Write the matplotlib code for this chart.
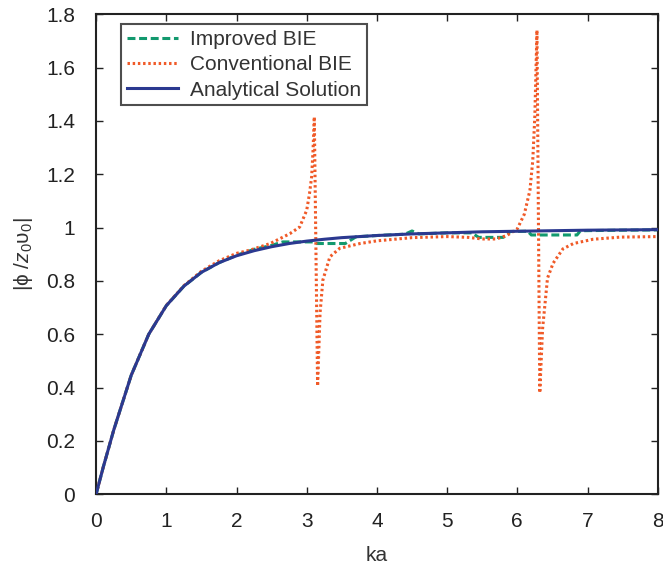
import matplotlib
matplotlib.use("Agg")
import matplotlib.pyplot as plt

plt.rcParams['font.family'] = ['Liberation Sans', 'DejaVu Sans']
plt.rcParams['mathtext.fontset'] = 'custom'
plt.rcParams['mathtext.rm'] = 'Liberation Sans'
plt.rcParams['mathtext.it'] = 'Liberation Sans:italic'

# Analytical solution
ka_an = [0, 0.1, 0.25, 0.5, 0.75, 1.0, 1.25, 1.5, 1.75, 2.0, 2.25, 2.5, 2.75, 3.0, 3.25, 3.5,
         4.0, 4.5, 5.0, 5.5, 6.0, 6.5, 7.0, 7.5, 8.0]
val_an = [0, 0.10, 0.24, 0.446, 0.60, 0.707, 0.78, 0.832, 0.868, 0.894, 0.913, 0.928, 0.94,
          0.949, 0.956, 0.962, 0.970, 0.976, 0.980, 0.984, 0.986, 0.988, 0.990, 0.991, 0.992]

# Improved BIE
ka_imp = [0, 0.1, 0.25, 0.5, 0.75, 1.0, 1.25, 1.5, 1.75, 2.0, 2.25, 2.5, 2.66, 3.09, 3.13,
          3.55, 3.7, 4.0, 4.4, 4.5, 4.6, 5.0, 5.35, 5.45, 5.8, 5.9, 6.15, 6.2, 6.85, 6.9,
          7.5, 8.0]
val_imp = [0, 0.10, 0.24, 0.446, 0.60, 0.707, 0.78, 0.832, 0.868, 0.896, 0.918, 0.933, 0.946,
           0.946, 0.940, 0.940, 0.965, 0.970, 0.975, 0.987, 0.976, 0.980, 0.980, 0.963, 0.963,
           0.985, 0.986, 0.972, 0.972, 0.988, 0.990, 0.991]

# Conventional BIE
ka_con = [0, 0.1, 0.25, 0.5, 0.75, 1.0, 1.25, 1.5, 1.75, 2.0, 2.19, 2.48, 2.76, 2.9, 3.0,
          3.04, 3.07, 3.09, 3.108, 3.155, 3.19, 3.23, 3.33, 3.47, 3.76, 4.0, 4.5, 5.0, 5.3,
          5.5, 5.7, 5.85, 6.0, 6.1, 6.18, 6.22, 6.25, 6.28, 6.32, 6.36, 6.43, 6.51, 6.65,
          6.8, 7.08, 7.47, 8.0]
val_con = [0, 0.10, 0.24, 0.446, 0.60, 0.708, 0.782, 0.836, 0.875, 0.903, 0.915, 0.94, 0.977,
           1.002, 1.065, 1.128, 1.19, 1.29, 1.415, 0.405, 0.679, 0.803, 0.89, 0.922, 0.94,
           0.95, 0.962, 0.966, 0.963, 0.957, 0.957, 0.97, 0.995, 1.05, 1.14, 1.25, 1.42,
           1.74, 0.38, 0.62, 0.81, 0.866, 0.92, 0.94, 0.956, 0.964, 0.966]

xticks = [0, 1, 2, 3, 4, 5, 6, 7, 8]
yticks = [0, 0.2, 0.4, 0.6, 0.8, 1.0, 1.2, 1.4, 1.6, 1.8]
ytick_labels = ['0', '0.2', '0.4', '0.6', '0.8', '1', '1.2', '1.4', '1.6', '1.8']

fig = plt.figure(figsize=(6.63, 5.68), dpi=100)
ax = fig.add_axes([0.145, 0.130, 0.847, 0.845])

ax.plot(ka_imp, val_imp, color='#12996e', lw=2.2, ls=(0, (2.6, 1.2)), label='Improved BIE', zorder=1)
ax.plot(ka_con, val_con, color='#f05a28', lw=2.2, ls=(0, (0.8, 0.9)), label='Conventional BIE', zorder=2)
ax.plot(ka_an, val_an, color='#2b3990', lw=2.2, ls='-', label='Analytical Solution', zorder=3)

ax.set_xlim(0, 8)
ax.set_ylim(0, 1.8)
ax.set_xticks(xticks)
ax.set_yticks(yticks)
ax.set_yticklabels(ytick_labels)
ax.tick_params(direction='in', top=True, right=True, labelsize=15, length=5, width=1,
               colors='#222222')
ax.tick_params(axis='x', pad=13)
ax.tick_params(axis='y', pad=15)
for s in ax.spines.values():
    s.set_linewidth(1.5)
    s.set_color('#222222')

ax.set_xlabel('ka', fontsize=15, color='#333333', labelpad=11)
ax.set_ylabel(r'|ϕ /$z_0$υ$_0$|', fontsize=15, color='#333333', labelpad=8)

leg = ax.legend(loc='upper left', bbox_to_anchor=(0.0445, 0.979), fontsize=15, frameon=True,
                fancybox=False, edgecolor='#222222', handlelength=2.45, borderpad=0.28,
                labelspacing=0.3, handletextpad=0.6, borderaxespad=0.0)
leg.get_frame().set_linewidth(1.5)
for t in leg.get_texts():
    t.set_color('#333333')

fig.savefig('out.png', dpi=100)
